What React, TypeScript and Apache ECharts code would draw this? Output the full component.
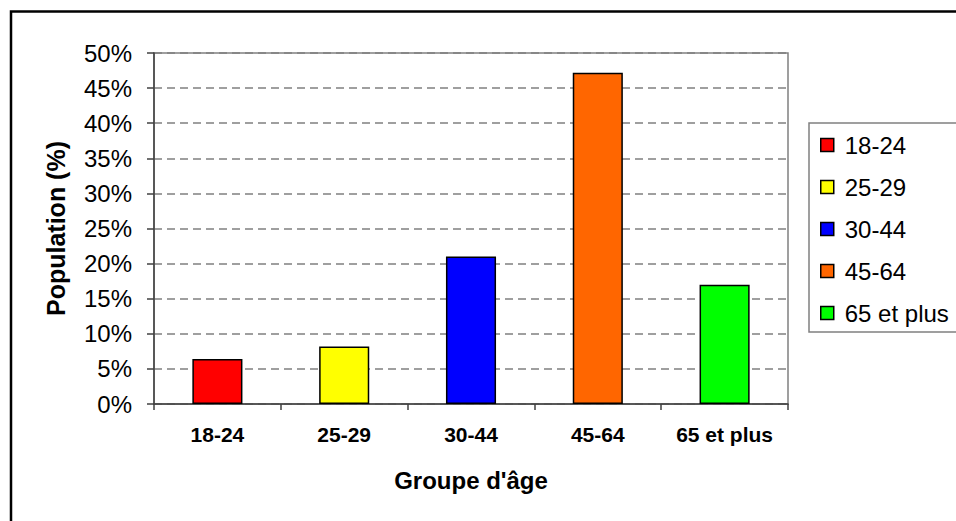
import React, { useEffect, useRef } from "react";
import * as echarts from "echarts";

const categories = ["18-24", "25-29", "30-44", "45-64", "65 et plus"];
const values = [6.4, 8.2, 21.0, 47.2, 17.0];
const colors = ["#FF0000", "#FFFF00", "#0000FF", "#FF6600", "#00FF00"];
const yTicks = [0, 5, 10, 15, 20, 25, 30, 35, 40, 45, 50];

const FONT = "'Liberation Sans', Arial, sans-serif";

export default function App() {
  const ref = useRef<HTMLDivElement>(null);
  useEffect(() => {
    if (!ref.current) return;
    const chart = echarts.init(ref.current, null, { renderer: "svg" });
    const series = categories.map((name, i) => ({
      type: "bar",
      name,
      stack: "all",
      barWidth: "39.5%",
      data: categories.map((_, j) => (j === i ? values[i] : "-")),
      itemStyle: { color: colors[i], borderColor: "#000", borderWidth: 1.5 },
    }));
    chart.setOption({
      animation: false,
      textStyle: { fontFamily: FONT },
      graphic: [
        {
          type: "rect",
          shape: { x: 11, y: 11.5, width: 1000, height: 600 },
          style: { fill: "none", stroke: "#000", lineWidth: 2.5 },
          z: 100,
        },
      ],
      grid: {
        left: 154,
        right: 168,
        top: 53,
        bottom: 117,
        show: true,
        borderColor: "#808080",
        borderWidth: 1.5,
        backgroundColor: "transparent",
      },
      legend: {
        orient: "vertical",
        left: 809,
        top: 123,
        padding: [10, 60, 7, 11],
        itemGap: 18,
        itemWidth: 13,
        itemHeight: 13,
        borderColor: "#808080",
        borderWidth: 1.5,
        icon: "rect",
        data: categories,
        itemStyle: { borderColor: "#000", borderWidth: 1.5 },
        textStyle: {
          fontFamily: FONT,
          fontSize: 24,
          lineHeight: 24,
          color: "#000",
          padding: [0, 0, 0, 6],
        },
      },
      xAxis: {
        type: "category",
        data: categories,
        name: "Groupe d'âge",
        nameLocation: "middle",
        nameGap: 64,
        nameTextStyle: { fontFamily: FONT, fontSize: 24, fontWeight: "bold", color: "#000" },
        axisLine: { lineStyle: { color: "#404040", width: 1.5 } },
        axisTick: { show: true, alignWithLabel: false, length: 6, lineStyle: { color: "#404040", width: 1.5 } },
        axisLabel: { fontFamily: FONT, fontSize: 21, fontWeight: "bold", color: "#000", margin: 20 },
      },
      yAxis: {
        type: "value",
        min: yTicks[0],
        max: yTicks[yTicks.length - 1],
        interval: 5,
        name: "Population (%)",
        nameLocation: "middle",
        nameGap: 86,
        nameTextStyle: { fontFamily: FONT, fontSize: 25, fontWeight: "bold", color: "#000" },
        axisLine: { show: true, lineStyle: { color: "#404040", width: 1.5 } },
        axisTick: { show: true, length: 7, lineStyle: { color: "#404040", width: 1.5 } },
        axisLabel: { fontFamily: FONT, fontSize: 24, color: "#000", margin: 22, formatter: "{value}%" },
        splitLine: { show: true, lineStyle: { color: "#808080", width: 1.5, type: [8, 5] } },
      },
      series,
    });
    return () => chart.dispose();
  }, []);
  return (
    <div
      ref={ref}
      style={{ position: "fixed", left: 0, top: 0, width: 956, height: 521, background: "#fff" }}
    />
  );
}
